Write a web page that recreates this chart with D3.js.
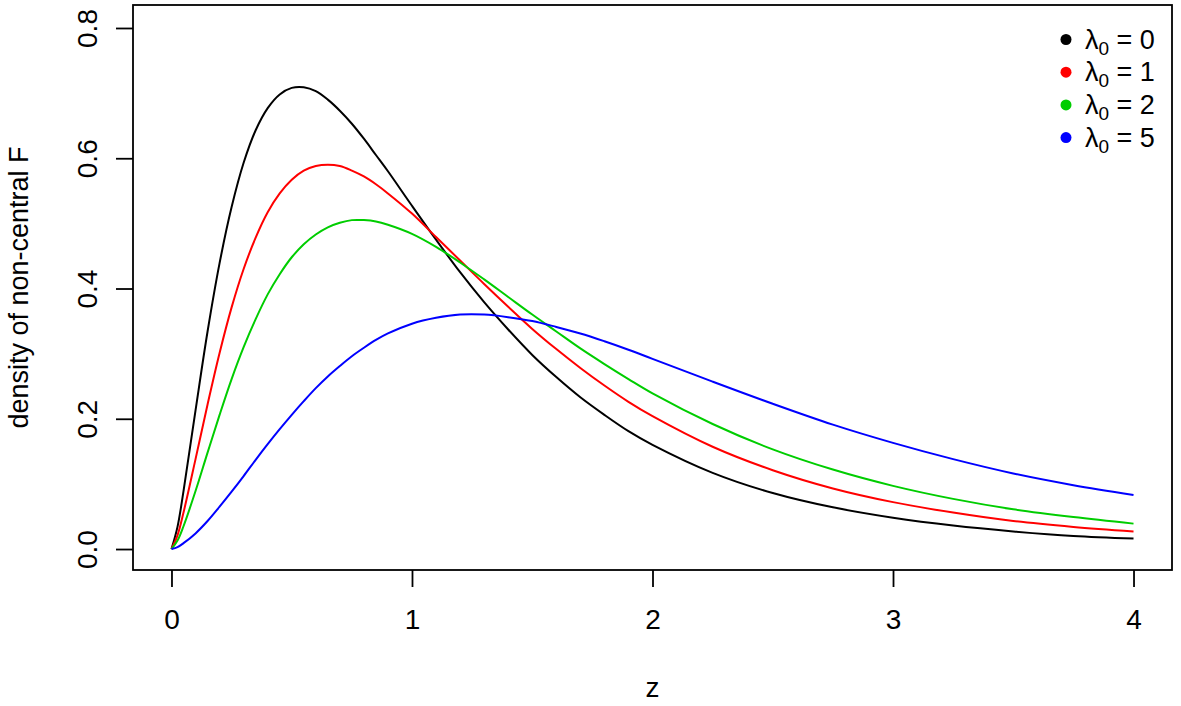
<!DOCTYPE html>
<html>
<head>
    <meta charset="UTF-8">
    <title>density of non-central F</title>
    <script src="https://cdn.jsdelivr.net/npm/d3@7"></script>
    <style>
        body { margin: 0; background: #fff; }
        text { font-family: "Liberation Sans", Arial, sans-serif; fill: #000; }
    </style>
</head>
<body>
    <script>
        // values
        var zs = [0, 0.025, 0.05, 0.1, 0.15, 0.2, 0.25, 0.3, 0.35, 0.4, 0.45, 0.5, 0.55, 0.6, 0.65, 0.7, 0.75, 0.8, 0.85, 0.9,
                  1.0, 1.1, 1.2, 1.3, 1.4, 1.5, 1.6, 1.7, 1.8, 1.9, 2.0, 2.25, 2.5, 2.75, 3.0, 3.25, 3.5, 3.75, 4.0]
        var lambda0 = [0, 0.034, 0.089, 0.213, 0.334, 0.439, 0.525, 0.593, 0.643, 0.677, 0.698, 0.708, 0.709, 0.703, 0.690, 0.673, 0.653, 0.630, 0.605, 0.580,
                       0.527, 0.475, 0.425, 0.379, 0.337, 0.298, 0.264, 0.233, 0.206, 0.181, 0.160, 0.117, 0.086, 0.064, 0.048, 0.036, 0.027, 0.020, 0.016]
        var lambda1 = [0, 0.021, 0.056, 0.138, 0.222, 0.301, 0.371, 0.430, 0.478, 0.517, 0.546, 0.567, 0.581, 0.588, 0.590, 0.588, 0.581, 0.572, 0.560, 0.546,
                       0.515, 0.479, 0.443, 0.407, 0.372, 0.338, 0.307, 0.278, 0.251, 0.226, 0.204, 0.157, 0.121, 0.093, 0.072, 0.056, 0.043, 0.034, 0.027]
        var lambda2 = [0, 0.013, 0.035, 0.089, 0.148, 0.206, 0.261, 0.310, 0.353, 0.391, 0.422, 0.448, 0.468, 0.483, 0.494, 0.501, 0.505, 0.505, 0.503, 0.498,
                       0.484, 0.464, 0.440, 0.414, 0.387, 0.360, 0.334, 0.308, 0.284, 0.261, 0.239, 0.192, 0.153, 0.122, 0.097, 0.077, 0.061, 0.049, 0.039]
        var lambda5 = [0, 0.003, 0.009, 0.024, 0.043, 0.065, 0.088, 0.112, 0.137, 0.161, 0.184, 0.206, 0.227, 0.247, 0.265, 0.281, 0.296, 0.309, 0.321, 0.331,
                       0.346, 0.355, 0.360, 0.360, 0.356, 0.350, 0.341, 0.331, 0.319, 0.306, 0.292, 0.257, 0.223, 0.191, 0.163, 0.138, 0.116, 0.098, 0.083]

        var seriesNames = ['0', '1', '2', '5']
        var seriesColors = ['#000000', '#ff0000', '#00cd00', '#0000ff']
        var xTicks = [0, 1, 2, 3, 4]
        var yTicks = [0, 0.2, 0.4, 0.6, 0.8]

        var series = [lambda0, lambda1, lambda2, lambda5]

        var W = 1181, H = 706
        var box = {left: 133, right: 1172, top: 5, bottom: 570}

        var svg = d3.select('body')
            .append('svg')
            .attr('width', W)
            .attr('height', H)

        var x = d3.scaleLinear().domain([-0.16, 4.16]).range([box.left, box.right])
        var y = d3.scaleLinear().domain([-0.0322, 0.8353]).range([box.bottom, box.top])

        // curves
        var line = d3.line()
            .x(function(d){ return x(d[0]) })
            .y(function(d){ return y(d[1]) })
            .curve(d3.curveCatmullRom)

        series.forEach(function(vals, i){
            svg.append('path')
                .datum(zs.map(function(z, j){ return [z, vals[j]] }))
                .attr('d', line)
                .attr('fill', 'none')
                .attr('stroke', seriesColors[i])
                .attr('stroke-width', 2)
        })

        // box
        svg.append('rect')
            .attr('x', box.left)
            .attr('y', box.top)
            .attr('width', box.right - box.left)
            .attr('height', box.bottom - box.top)
            .attr('fill', 'none')
            .attr('stroke', '#000')
            .attr('stroke-width', 1.8)

        // x axis
        var xa = svg.append('g')
            .attr('transform', 'translate(0,' + box.bottom + ')')
            .call(d3.axisBottom(x).tickValues(xTicks).tickFormat(d3.format('d')).tickSize(17).tickPadding(22))
        xa.select('.domain').remove()
        xa.selectAll('line').attr('stroke', '#000').attr('stroke-width', 1.8)
        xa.selectAll('text').attr('font-size', 28).attr('font-family', null)

        // y axis, labels turned like R does
        var ya = svg.append('g')
            .attr('transform', 'translate(' + box.left + ',0)')
            .call(d3.axisLeft(y).tickValues(yTicks).tickFormat(d3.format('.1f')).tickSize(17))
        ya.select('.domain').remove()
        ya.selectAll('line').attr('stroke', '#000').attr('stroke-width', 1.8)
        ya.selectAll('text')
            .attr('font-size', 28)
            .attr('font-family', null)
            .attr('transform', 'rotate(-90)')
            .attr('text-anchor', 'middle')
            .attr('x', 0)
            .attr('y', -36)
            .attr('dy', null)

        // axis titles
        svg.append('text')
            .attr('x', (box.left + box.right) / 2)
            .attr('y', 697)
            .attr('text-anchor', 'middle')
            .attr('font-size', 28)
            .text('z')

        svg.append('text')
            .attr('transform', 'translate(28,' + (box.top + box.bottom) / 2 + ') rotate(-90)')
            .attr('text-anchor', 'middle')
            .attr('font-size', 27)
            .text('density of non-central F')

        // legend
        var leg = svg.append('g')
        seriesNames.forEach(function(name, i){
            var cy = 39.5 + i * 32.7
            leg.append('circle')
                .attr('cx', 1066)
                .attr('cy', cy)
                .attr('r', 5.5)
                .attr('fill', seriesColors[i])
            var t = leg.append('text')
                .attr('x', 1085)
                .attr('y', cy + 9)
                .attr('font-size', 27)
            t.append('tspan').text('λ')
            t.append('tspan').attr('font-size', 19).attr('dy', 6).text('0')
            t.append('tspan').attr('dy', -6).text(' = ' + name)
        })
    </script>
</body>
</html>
